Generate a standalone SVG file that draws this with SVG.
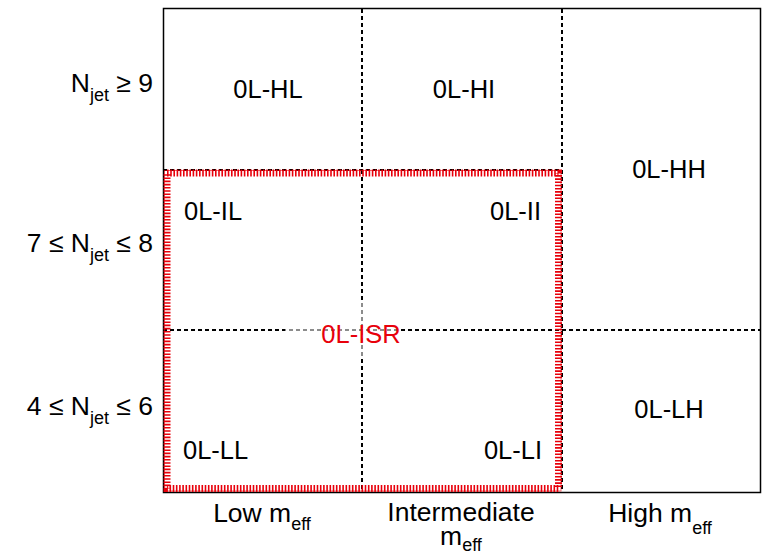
<svg xmlns="http://www.w3.org/2000/svg" width="765" height="555" viewBox="0 0 765 555">
<style>
text{font-family:"Liberation Sans",Arial,sans-serif;fill:#000}
.cell{font-size:25.5px}
.ax{font-size:26.5px}
.sub{font-size:18px}
.dash{stroke:#000;stroke-width:2;stroke-dasharray:4 3;fill:none}
</style>
<rect width="765" height="555" fill="#fff"/>
<g id="connectors">
<line class="dash" x1="362" y1="9" x2="362" y2="492"/>
<line class="dash" x1="562" y1="9" x2="562" y2="492"/>
<line class="dash" x1="163" y1="330" x2="761" y2="330"/>
<line class="dash" x1="163" y1="170" x2="562" y2="170"/>
<rect x="285" y="300" width="115" height="58" fill="#fff" fill-opacity="0.55"/>
</g>
<g id="frame">
<rect x="163.5" y="8.5" width="597" height="484" fill="none" stroke="#000" stroke-width="1.5"/>
</g>
<g id="isr-box">
<rect x="167" y="173" width="391.5" height="315.5" fill="none" stroke="#e8000b" stroke-width="7" stroke-dasharray="1.6 1.6"/>
<rect x="164.5" y="170.5" width="396.5" height="320.5" fill="none" stroke="#e8000b" stroke-width="1" stroke-opacity="0.6"/>
<text x="361" y="343" text-anchor="middle" class="cell" style="fill:#e8000b">0L-ISR</text>
</g>
<g id="n-HL"><text class="cell" x="268" y="98" text-anchor="middle">0L-HL</text></g>
<g id="n-HI"><text class="cell" x="464" y="98" text-anchor="middle">0L-HI</text></g>
<g id="n-HH"><text class="cell" x="669" y="178" text-anchor="middle">0L-HH</text></g>
<g id="n-IL"><text class="cell" x="184" y="220">0L-IL</text></g>
<g id="n-II"><text class="cell" x="541" y="220" text-anchor="end">0L-II</text></g>
<g id="n-LL"><text class="cell" x="183" y="459">0L-LL</text></g>
<g id="n-LI"><text class="cell" x="542" y="459" text-anchor="end">0L-LI</text></g>
<g id="n-LH"><text class="cell" x="669" y="418" text-anchor="middle">0L-LH</text></g>
<g id="y-labels">
<text class="ax" x="153" y="92" text-anchor="end">N<tspan class="sub" dy="9">jet</tspan><tspan dy="-9"> ≥ 9</tspan></text>
<text class="ax" x="153" y="252" text-anchor="end">7 ≤ N<tspan class="sub" dy="9">jet</tspan><tspan dy="-9"> ≤ 8</tspan></text>
<text class="ax" x="153" y="415" text-anchor="end">4 ≤ N<tspan class="sub" dy="9">jet</tspan><tspan dy="-9"> ≤ 6</tspan></text>
</g>
<g id="x-labels">
<text class="ax" x="262" y="522" text-anchor="middle">Low m<tspan class="sub" dy="8">eff</tspan></text>
<text class="ax" x="461" y="521" text-anchor="middle">Intermediate</text>
<text class="ax" x="461" y="545" text-anchor="middle">m<tspan class="sub" dy="6">eff</tspan></text>
<text class="ax" x="660" y="522" text-anchor="middle">High m<tspan class="sub" dy="12">eff</tspan></text>
</g>
</svg>
